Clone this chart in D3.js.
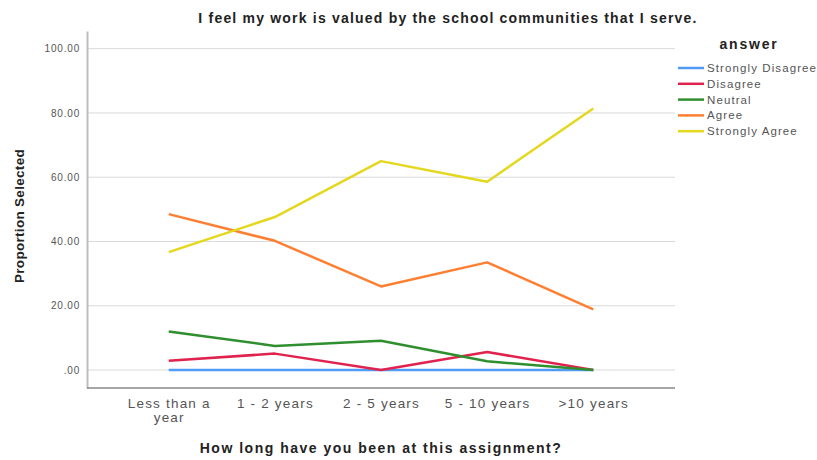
<!DOCTYPE html>
<html>
<head>
<meta charset="utf-8">
<script src="https://cdn.jsdelivr.net/npm/d3@7"></script>
<style>
  html, body { margin: 0; padding: 0; background: #fff; }
  svg { display: block; font-family: "Liberation Sans", Arial, sans-serif; }
</style>
</head>
<body>
<svg id="chart" width="817" height="460"></svg>
<script>
const categories = ["Less than a year", "1 - 2 years", "2 - 5 years", "5 - 10 years", ">10 years"];
const seriesNames = ["Strongly Disagree", "Disagree", "Neutral", "Agree", "Strongly Agree"];
const seriesColors = ["#4f9bf5", "#e0234e", "#2f8f2f", "#ff7f32", "#e4d81e"];
const stronglyDisagree = [0, 0, 0, 0, 0];
const disagree = [2.9, 5.1, 0, 5.6, 0];
const neutral = [12.0, 7.5, 9.1, 2.7, 0];
const agree = [48.5, 40.2, 26.0, 33.5, 18.9];
const stronglyAgree = [36.7, 47.6, 65.0, 58.6, 81.4];
const yTicks = [0, 20, 40, 60, 80, 100];
const titleText = "I feel my work is valued by the school communities that I serve.";
const xTitle = "How long have you been at this assignment?";
const yTitle = "Proportion Selected";
const legendTitle = "answer";

const seriesValues = [stronglyDisagree, disagree, neutral, agree, stronglyAgree];

(function () {
const svg = d3.select("#chart");
const mLeft = 87, mRight = 675, mTop = 31, mBottom = 388;

const x = d3.scalePoint().domain(categories).range([mLeft, mRight]).padding(0.77);
const y = d3.scaleLinear().domain([-5.6, 105.5]).range([mBottom, mTop]);

// gridlines
svg.append("g")
  .selectAll("line").data(yTicks).join("line")
  .attr("x1", mLeft).attr("x2", mRight)
  .attr("y1", d => y(d)).attr("y2", d => y(d))
  .attr("stroke", "#d9d9d9").attr("stroke-width", 1);

// y axis
const yAxis = svg.append("g").attr("transform", `translate(${mLeft},0)`)
  .call(d3.axisLeft(y).tickValues(yTicks).tickSize(0).tickPadding(7)
    .tickFormat(d => d === 0 ? ".00" : d3.format(".2f")(d)));
yAxis.select(".domain").attr("stroke", "#bdbdbd").attr("stroke-width", 2);
yAxis.selectAll("text").attr("font-size", 10).attr("letter-spacing", 0.8).attr("fill", "#555");

// x axis
const xAxis = svg.append("g").attr("transform", `translate(0,${mBottom})`)
  .call(d3.axisBottom(x).tickSize(0).tickPadding(10));
xAxis.select(".domain").attr("stroke", "#888").attr("stroke-width", 1.5)
  .attr("d", `M${mLeft},0H${mRight}`);
xAxis.selectAll("text").attr("font-size", 13.5).attr("letter-spacing", 1.2).attr("fill", "#555")
  .each(function(d) {
    if (d === "Less than a year") {
      const t = d3.select(this);
      t.text(null);
      t.append("tspan").attr("x", 0).attr("dy", "0.71em").text("Less than a");
      t.append("tspan").attr("x", 0).attr("dy", "1.05em").text("year");
      t.attr("dy", null);
    }
  });

// lines
const line = d3.line().x((d, i) => x(categories[i])).y(d => y(d));
const order = [0, 1, 2, 3, 4];
svg.append("g").selectAll("path").data(order).join("path")
  .attr("d", i => line(seriesValues[i]))
  .attr("fill", "none")
  .attr("stroke", i => seriesColors[i])
  .attr("stroke-width", 2.5)
  .attr("stroke-linejoin", "round");

// title
svg.append("text").attr("x", 448).attr("y", 23).attr("text-anchor", "middle")
  .attr("font-size", 14).attr("letter-spacing", 1.2).attr("font-weight", "bold").attr("fill", "#222").text(titleText);

// axis titles
svg.append("text").attr("x", 381).attr("y", 453).attr("text-anchor", "middle")
  .attr("font-size", 14).attr("letter-spacing", 1.5).attr("font-weight", "bold").attr("fill", "#222").text(xTitle);
svg.append("text").attr("transform", "translate(24,216) rotate(-90)").attr("text-anchor", "middle")
  .attr("font-size", 13.5).attr("letter-spacing", 0.3).attr("font-weight", "bold").attr("fill", "#222").text(yTitle);

// legend
svg.append("text").attr("x", 749).attr("y", 49).attr("text-anchor", "middle")
  .attr("font-size", 14).attr("letter-spacing", 1.8).attr("font-weight", "bold").attr("fill", "#222").text(legendTitle);
const lg = svg.append("g").selectAll("g").data(seriesNames).join("g")
  .attr("transform", (d, i) => `translate(678,${68 + i * 15.8})`);
lg.append("line").attr("x1", 0).attr("x2", 26).attr("y1", 0).attr("y2", 0)
  .attr("stroke", (d, i) => seriesColors[i]).attr("stroke-width", 2.5);
lg.append("text").attr("x", 29).attr("y", 4).attr("font-size", 11.5).attr("letter-spacing", 1.1).attr("fill", "#555").text(d => d);
})();
</script>
</body>
</html>
